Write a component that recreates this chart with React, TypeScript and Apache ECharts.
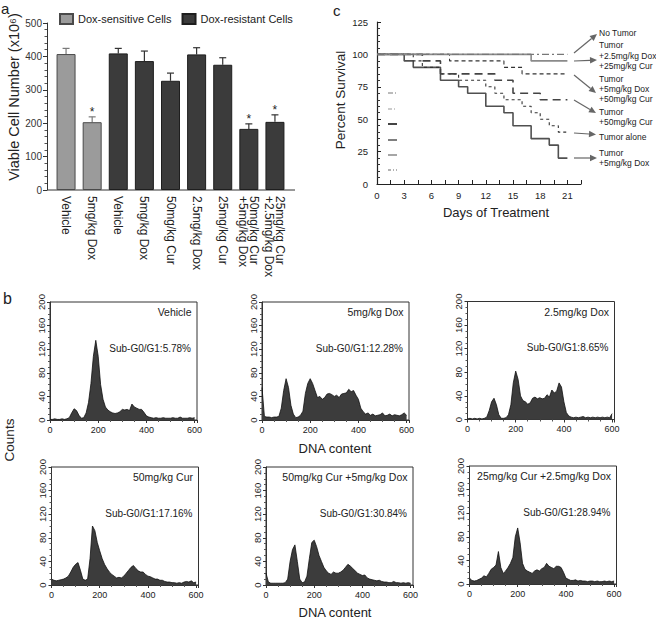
import React, { useEffect, useRef } from 'react';
import * as echarts from 'echarts';

const FONT = '"Liberation Sans", Arial, Helvetica, sans-serif';

// ---------- Panel a ----------
const barCategories = ['Vehicle', '5mg/kg Dox', 'Vehicle', '5mg/kg Dox', '50mg/kg Cur', '2.5mg/kg Dox', '25mg/kg Cur', '50mg/kg Cur\n+5mg/kg Dox', '25mg/kg Cur\n+2.5mg/kg Dox'];
const sensitiveValues = [407, 203, null, null, null, null, null, null, null];
const resistantValues = [null, null, 409, 386, 327, 406, 375, 183, 204];
const cellValues = [407, 203, 409, 386, 327, 406, 375, 183, 204];
const cellErrors = [17, 16, 15, 30, 23, 20, 21, 15, 21];
const significant = [0, 1, 0, 0, 0, 0, 0, 1, 1];
const sensitiveGroup = [1, 1, 0, 0, 0, 0, 0, 0, 0];

// ---------- Panel c (Kaplan-Meier, [day, percent]) ----------
const noTumor = [[0, 100], [21, 100]];
const tumorDox25Cur = [[0, 100], [17, 100], [17, 95], [21, 95]];
const tumorDox5Cur50 = [[0, 100], [8, 95], [14, 90], [16, 85], [21, 85]];
const tumorCur50 = [[0, 100], [5, 95], [7, 85], [13, 80], [15, 70], [18, 65], [21, 65]];
const tumorAlone = [[0, 100], [4, 95], [5, 90], [7, 85], [9, 80], [12, 75], [13, 70], [14, 65], [16, 60], [17, 55], [18, 50], [19, 45], [20, 40], [21, 40]];
const tumorDox5 = [[0, 100], [3, 95], [4, 90], [7, 80], [9, 75], [10, 70], [12, 60], [14, 55], [15, 45], [17, 35], [19, 30], [20, 20], [21, 20]];

// ---------- Panel b (DNA histograms) ----------
const dnaBins = [0, 10, 20, 30, 40, 50, 60, 70, 80, 90, 100, 110, 120, 130, 140, 150, 160, 170, 180, 190, 200, 210, 220, 230, 240, 250, 260, 270, 280, 290, 300, 310, 320, 330, 340, 350, 360, 370, 380, 390, 400, 410, 420, 430, 440, 450, 460, 470, 480, 490, 500, 510, 520, 530, 540, 550, 560, 570, 580, 590, 600];
const histVehicle = [1, 1, 2, 1, 1, 2, 1, 2, 4, 12, 19, 16, 8, 3, 4, 12, 30, 62, 108, 135, 108, 60, 35, 22, 17, 14, 12, 11, 12, 14, 18, 17, 18, 16, 27, 22, 20, 18, 18, 13, 7, 5, 4, 3, 4, 3, 3, 4, 3, 3, 3, 4, 3, 3, 5, 3, 3, 3, 4, 3, 4];
const histDox5 = [55, 6, 5, 5, 4, 5, 5, 6, 20, 50, 70, 55, 25, 10, 4, 5, 8, 15, 45, 62, 70, 62, 50, 38, 40, 35, 38, 44, 45, 43, 40, 42, 38, 44, 45, 46, 52, 48, 50, 42, 35, 20, 14, 10, 12, 8, 10, 7, 8, 9, 12, 7, 8, 10, 7, 9, 8, 7, 9, 12, 8];
const histDox25 = [1, 2, 1, 2, 1, 2, 1, 2, 4, 15, 30, 36, 25, 8, 2, 2, 3, 8, 25, 62, 82, 68, 40, 32, 30, 26, 28, 36, 38, 35, 37, 35, 36, 42, 38, 50, 45, 48, 62, 55, 30, 12, 6, 4, 3, 4, 3, 4, 5, 3, 4, 3, 4, 3, 4, 3, 4, 3, 4, 3, 10];
const histCur50 = [10, 8, 7, 8, 9, 10, 12, 15, 22, 30, 35, 38, 25, 10, 8, 10, 45, 100, 92, 72, 58, 45, 35, 28, 22, 18, 15, 12, 13, 12, 15, 20, 25, 30, 33, 28, 24, 22, 22, 18, 15, 14, 12, 10, 10, 8, 8, 6, 5, 5, 4, 4, 3, 4, 3, 5, 6, 5, 7, 4, 5];
const histCur50Dox5 = [20, 5, 3, 3, 3, 3, 3, 3, 4, 10, 40, 60, 68, 40, 10, 4, 5, 15, 45, 72, 76, 65, 50, 40, 30, 24, 20, 18, 22, 20, 20, 22, 25, 30, 35, 32, 28, 24, 20, 18, 16, 17, 12, 10, 9, 8, 7, 8, 6, 5, 5, 4, 4, 6, 4, 4, 3, 4, 3, 4, 3];
const histCur25Dox25 = [10, 6, 5, 6, 8, 10, 14, 12, 18, 25, 28, 32, 55, 28, 18, 22, 28, 35, 45, 80, 95, 70, 35, 25, 22, 20, 18, 22, 24, 22, 26, 28, 35, 30, 28, 26, 30, 30, 28, 20, 10, 8, 6, 6, 7, 5, 6, 5, 5, 4, 5, 5, 4, 5, 4, 4, 5, 4, 5, 4, 5];

const histPanels = [
  { title: 'Vehicle', sub: 'Sub-G0/G1:5.78%', values: histVehicle },
  { title: '5mg/kg Dox', sub: 'Sub-G0/G1:12.28%', values: histDox5 },
  { title: '2.5mg/kg Dox', sub: 'Sub-G0/G1:8.65%', values: histDox25 },
  { title: '50mg/kg Cur', sub: 'Sub-G0/G1:17.16%', values: histCur50 },
  { title: '50mg/kg Cur +5mg/kg Dox', sub: 'Sub-G0/G1:30.84%', values: histCur50Dox5 },
  { title: '25mg/kg Cur +2.5mg/kg Dox', sub: 'Sub-G0/G1:28.94%', values: histCur25Dox25 },
];

// layout (pixels)
const histBoxes = [
  { left: 50, top: 302 }, { left: 262, top: 302 }, { left: 467.5, top: 301.5 },
  { left: 51.5, top: 467 }, { left: 266, top: 467 }, { left: 469.5, top: 466 },
];
const HW = 147;
const HH = 118;

function arrow(x1: number, y1: number, x2: number, y2: number) {
  const a = Math.atan2(y2 - y1, x2 - x1);
  const L = 7, W = 3.2;
  const bx = x2 - L * Math.cos(a), by = y2 - L * Math.sin(a);
  return [
    { type: 'line', shape: { x1, y1, x2: bx, y2: by }, style: { stroke: '#666', lineWidth: 1.2 } },
    { type: 'polygon', shape: { points: [[x2, y2], [bx + W * Math.sin(a), by - W * Math.cos(a)], [bx - W * Math.sin(a), by + W * Math.cos(a)]] }, style: { fill: '#666' } },
  ];
}

function txt(text: string, x: number, y: number, fontSize: number, align = 'left', rotation = 0, fill = '#222') {
  return { type: 'text', x, y, rotation, style: { text, fontSize, fontFamily: FONT, fill, align, verticalAlign: 'middle' } };
}

export default function App() {
  const ref = useRef<HTMLDivElement>(null);
  useEffect(() => {
    if (!ref.current) return;
    const chart = echarts.init(ref.current, null, { renderer: 'svg' });

    const grids: any[] = [
      { left: 53, top: 23, width: 235, height: 167 },
      { left: 377, top: 22, width: 204, height: 162 },
    ];
    const xAxes: any[] = [
      {
        type: 'category', gridIndex: 0, data: barCategories,
        axisLine: { show: false }, axisTick: { show: false },
        axisLabel: { rotate: -90, interval: 0, fontSize: 12, margin: 6, lineHeight: 11, color: '#222', fontFamily: FONT },
      },
      {
        type: 'value', gridIndex: 1, min: 0, max: 22.5, interval: 1.5,
        axisLine: { lineStyle: { color: '#222', width: 1.2 } },
        axisTick: { inside: true, length: 4, lineStyle: { color: '#222' } },
        splitLine: { show: false },
        axisLabel: { fontSize: 9.5, margin: 6, color: '#222', formatter: (v: number) => (v % 3 === 0 ? String(v) : '') },
      },
    ];
    const yAxes: any[] = [
      {
        type: 'value', gridIndex: 0, min: 0, max: 500, interval: 100, offset: 6,
        axisLine: { show: true, lineStyle: { color: '#333' } },
        axisTick: { show: true, length: 4, lineStyle: { color: '#333' } },
        minorTick: { show: true, splitNumber: 5, length: 2.5, lineStyle: { color: '#555' } },
        splitLine: { show: false },
        axisLabel: { fontSize: 10, margin: 5, color: '#333' },
      },
      {
        type: 'value', gridIndex: 1, min: 0, max: 125, interval: 25,
        axisLine: { show: true, lineStyle: { color: '#222', width: 1.2 } },
        axisTick: { show: true, inside: true, length: 4, lineStyle: { color: '#222' } },
        minorTick: { show: true, splitNumber: 5, length: 3, lineStyle: { color: '#333' } },
        splitLine: { show: false },
        axisLabel: { fontSize: 9.5, margin: 9, color: '#222' },
      },
    ];

    const series: any[] = [
      {
        name: 'Dox-sensitive Cells', type: 'bar', xAxisIndex: 0, yAxisIndex: 0, data: sensitiveValues,
        barWidth: 19, barGap: '-100%',
        itemStyle: { color: '#9b9b9b', borderColor: '#4a4a4a', borderWidth: 1 },
      },
      {
        name: 'Dox-resistant Cells', type: 'bar', xAxisIndex: 0, yAxisIndex: 0, data: resistantValues,
        barWidth: 19, barGap: '-100%',
        itemStyle: { color: '#3b3b3b', borderColor: '#1e1e1e', borderWidth: 1 },
      },
      {
        type: 'custom', xAxisIndex: 0, yAxisIndex: 0, silent: true,
        data: cellValues.map((v, i) => [i, v, cellErrors[i], significant[i], sensitiveGroup[i]]),
        renderItem: (params: any, api: any) => {
          const i = api.value(0), v = api.value(1), e = api.value(2), s = api.value(3), g = api.value(4);
          const base = api.coord([i, v]);
          const top = api.coord([i, v + e]);
          const color = g ? '#7a7a7a' : '#333';
          const children: any[] = [
            { type: 'line', shape: { x1: base[0], y1: base[1], x2: top[0], y2: top[1] }, style: { stroke: color, lineWidth: 1.2 } },
            { type: 'line', shape: { x1: top[0] - 3.5, y1: top[1], x2: top[0] + 3.5, y2: top[1] }, style: { stroke: color, lineWidth: 1.2 } },
          ];
          if (s) children.push({ type: 'text', x: top[0], y: top[1] + 1, style: { text: '*', fontSize: 12, fontFamily: FONT, fill: '#222', align: 'center', verticalAlign: 'bottom' } });
          return { type: 'group', children };
        },
      },
    ];

    const kmDefs = [
      { data: tumorDox5, color: '#505050', width: 1.6, type: 'solid' },
      { data: tumorAlone, color: '#333', width: 1.1, type: [3, 3] },
      { data: tumorCur50, color: '#444', width: 1.6, type: [8, 5] },
      { data: tumorDox5Cur50, color: '#333', width: 1.1, type: [4, 3] },
      { data: tumorDox25Cur, color: '#8a8a8a', width: 1.6, type: 'solid' },
      { data: noTumor, color: '#777', width: 1.3, type: [7, 3, 2, 3] },
    ];
    kmDefs.forEach((d) => {
      series.push({
        type: 'line', xAxisIndex: 1, yAxisIndex: 1, data: d.data, step: 'end', symbol: 'none', silent: true,
        lineStyle: { color: d.color, width: d.width, type: d.type },
      });
    });

    const graphics: any[] = [];

    histPanels.forEach((p, k) => {
      const b = histBoxes[k];
      const gi = grids.length;
      grids.push({ left: b.left, top: b.top, width: HW, height: HH, show: true, borderColor: '#333', borderWidth: 1, backgroundColor: 'transparent' });
      xAxes.push({
        type: 'value', gridIndex: gi, min: 0, max: 610, interval: 200,
        axisLine: { lineStyle: { color: '#333' } },
        axisTick: { length: 3, lineStyle: { color: '#333' } },
        minorTick: { show: true, splitNumber: 4, length: 2, lineStyle: { color: '#555' } },
        splitLine: { show: false },
        axisLabel: { fontSize: 9, margin: 5, color: '#222', showMaxLabel: false },
      });
      yAxes.push({
        type: 'value', gridIndex: gi, min: 0, max: 200, interval: 40,
        axisLine: { show: true, lineStyle: { color: '#333' } },
        axisTick: { show: true, length: 3, lineStyle: { color: '#333' } },
        minorTick: { show: true, splitNumber: 4, length: 2, lineStyle: { color: '#555' } },
        splitLine: { show: false },
        axisLabel: { fontSize: 9.5, margin: 4, rotate: 90, color: '#222' },
      });
      series.push({
        type: 'line', xAxisIndex: gi, yAxisIndex: gi, symbol: 'none', silent: true,
        data: dnaBins.map((x, j) => [x, p.values[j]]),
        lineStyle: { color: '#111', width: 0.8 },
        areaStyle: { color: '#3c3c3c', opacity: 1 },
      });
      graphics.push(txt(p.title, b.left + HW - 5.5, b.top + 10, 10.5, 'right'));
      graphics.push(txt(p.sub, b.left + HW - 6, b.top + 46, 10, 'right'));
    });

    // panel letters and titles
    graphics.push(txt('a', 1, 8, 15));
    graphics.push(txt('c', 333, 10, 15));
    graphics.push(txt('b', 3, 298, 16));
    graphics.push(txt('Viable Cell Number (x10⁶)', 14, 97, 14.5, 'center', Math.PI / 2));
    graphics.push(txt('Percent Survival', 340, 100, 13.5, 'center', Math.PI / 2));
    graphics.push(txt('Days of Treatment', 496, 212, 13, 'center'));
    graphics.push(txt('Counts', 9, 440, 13.5, 'center', Math.PI / 2));
    graphics.push(txt('DNA content', 335, 448, 13, 'center'));
    graphics.push(txt('DNA content', 335, 612, 13, 'center'));

    // panel a x-axis baseline
    graphics.push({ type: 'line', shape: { x1: 47, y1: 190, x2: 295, y2: 190 }, style: { stroke: '#333', lineWidth: 1 } });

    // panel c: legend sample remnants
    const remn = [
      { y: 93, c: '#777', w: 1, d: [5, 2, 1, 2] },
      { y: 109, c: '#999', w: 1, d: [4, 2, 1, 2] },
      { y: 124, c: '#444', w: 2, d: null },
      { y: 140, c: '#555', w: 1.5, d: null },
      { y: 155, c: '#888', w: 1.5, d: null },
      { y: 170, c: '#666', w: 1, d: [3, 2, 1, 2] },
    ];
    remn.forEach((r) => graphics.push({ type: 'line', shape: { x1: 388, y1: r.y, x2: 397, y2: r.y }, style: { stroke: r.c, lineWidth: r.w, lineDash: r.d } }));

    // panel c annotations
    const annX = 599;
    const annFs = 8.5;
    [['No Tumor', 33], ['Tumor', 45], ['+2.5mg/kg Dox', 56], ['+25mg/kg Cur', 66], ['Tumor', 79], ['+5mg/kg Dox', 89], ['+50mg/kg Cur', 99], ['Tumor', 112], ['+50mg/kg Cur', 122], ['Tumor alone', 137], ['Tumor', 153], ['+5mg/kg Dox', 163]]
      .forEach(([t, y]) => graphics.push(txt(t as string, annX, y as number, annFs, 'left')));
    graphics.push(...arrow(574, 53, 597, 34));
    graphics.push(...arrow(574, 61, 597, 60));
    graphics.push(...arrow(574, 75, 596, 93));
    graphics.push(...arrow(574, 100, 596, 113));
    graphics.push(...arrow(574, 133, 596, 134.5));
    graphics.push(...arrow(574, 158, 597, 158));

    chart.setOption({
      animation: false,
      backgroundColor: '#ffffff',
      textStyle: { fontFamily: FONT },
      legend: {
        data: ['Dox-sensitive Cells', 'Dox-resistant Cells'],
        left: 59, top: 13, padding: 0, itemWidth: 13, itemHeight: 10, itemGap: 10, icon: 'rect',
        textStyle: { fontSize: 11, color: '#222', fontFamily: FONT },
        selectedMode: false,
      },
      grid: grids,
      xAxis: xAxes,
      yAxis: yAxes,
      series,
      graphic: graphics,
    });
    return () => chart.dispose();
  }, []);

  return <div ref={ref} style={{ position: 'absolute', left: 0, top: 0, width: 656, height: 619 }} />;
}
